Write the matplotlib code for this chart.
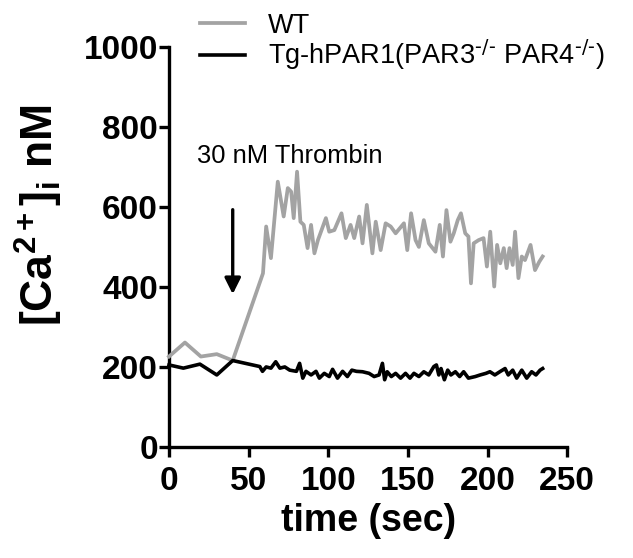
import matplotlib
matplotlib.use('Agg')
import matplotlib.pyplot as plt

plt.rcParams['font.family'] = ['Liberation Sans', 'DejaVu Sans']
plt.rcParams['mathtext.default'] = 'regular'

# WT trace (gray)
wt_time = [0, 10, 20, 30, 40, 59, 61, 64, 68.3, 72, 74.6, 76.7, 78.3, 80.4, 82.5, 84.6, 87, 89.2,
           91.3, 93.5, 98.5, 100.6, 103.8, 108.3, 111, 114, 116.3, 119.4, 121.5, 124.2, 127.7,
           129.8, 132.9, 136, 139.2, 142.3, 147.5, 149.6, 152, 154.8, 156.9, 160, 163.1, 167.3,
           170, 172, 174.2, 176.7, 178.8, 181.3, 183.3, 186, 188, 189.6, 191.3, 194.4, 197.5,
           199.6, 201.7, 204.2, 206, 208, 210.2, 212, 213.8, 215.8, 217.3, 219.4, 221.5, 223.5,
           227, 229.8, 232.5, 234.6]
wt_ca = [226, 261, 226, 232, 216, 434, 551, 472, 663, 576, 647, 638, 572, 688, 563, 555, 497, 555,
         484, 517, 572, 538, 542, 584, 522, 555, 522, 576, 509, 605, 484,
         563, 492, 559, 551, 534, 559, 492, 584, 517, 500, 567, 509, 488,
         555, 476, 592, 513, 534, 567, 584, 534, 526, 409, 509, 517, 522,
         451, 538, 401, 505, 459, 497, 447, 497, 455, 538, 422, 476, 467,
         505, 442, 463, 476]

# Tg-hPAR1(PAR3-/- PAR4-/-) trace (black)
tg_time = [0, 9, 19.4, 30, 40, 57, 58.7, 61, 64, 67, 69.6, 72.7, 75.8, 80, 82, 84, 86, 89.2, 92.3,
           94.4, 97.5, 100.6, 102.7, 105.8, 109, 112, 114.8, 117.7, 121.5, 125.6, 128.8, 131.9,
           134, 135.4, 137, 139.6, 142.3, 145.4, 148.5, 151.3, 153.8, 156.9, 160, 163.1, 166.3,
           167.9, 169.4, 170.8, 172.9, 175, 177, 179.8, 182.5, 185, 188, 192.3, 195.4, 199,
           201.5, 204.6, 207.7, 211, 213, 215.8, 218.3, 221.5, 224.6, 227.7, 230.4, 233, 234.6]
tg_ca = [205, 197, 207, 180, 216, 201, 189, 200, 197, 213, 197, 200, 192, 189, 209, 172, 189, 180, 189,
         172, 184, 176, 194, 172, 189, 176, 192, 189, 188, 184, 176, 180,
         209, 168, 188, 176, 184, 172, 184, 172, 184, 176, 188, 180, 201,
         205, 180, 196, 168, 192, 180, 188, 176, 188, 172, 176, 180, 184,
         188, 180, 188, 196, 180, 192, 172, 192, 172, 188, 180, 192, 196]

fig = plt.figure(figsize=(6.33, 5.58), dpi=100)
ax = fig.add_axes([0.267, 0.199, 0.629, 0.717])

ax.plot(wt_time, wt_ca, color='#a3a3a3', lw=2.7, label='WT', clip_on=False, zorder=3)
ax.plot(tg_time, tg_ca, color='black', lw=2.6,
        label=r'Tg-hPAR1(PAR3$^{\text{-/-}}$ PAR4$^{\text{-/-}}$)',
        clip_on=False, zorder=4)

ax.set_xlim(0, 250)
ax.set_ylim(0, 1000)
ax.set_xticks([0, 50, 100, 150, 200, 250])
ax.set_yticks([0, 200, 400, 600, 800, 1000])

for s in ['top', 'right']:
    ax.spines[s].set_visible(False)
for s in ['left', 'bottom']:
    ax.spines[s].set_linewidth(2.4)
ax.tick_params(width=2.4, length=7, labelsize=24)
ax.tick_params(axis='y', pad=1)
ax.tick_params(axis='x', pad=7)
for lab in ax.get_xticklabels() + ax.get_yticklabels():
    lab.set_fontweight('bold')

ax.set_xlabel('time (sec)', fontsize=27, fontweight='bold')
ax.xaxis.set_label_coords(0.5, -0.14)
ax.set_ylabel('[Ca$^{2+}$]$_i$ nM', fontsize=32, fontweight='bold')
ax.yaxis.set_label_coords(-0.26, 0.58)

ax.annotate('', xy=(40, 375), xytext=(40, 600),
            arrowprops=dict(arrowstyle='-|>', color='black', lw=2.4, mutation_scale=24))
ax.text(17.5, 727, '30 nM Thrombin', fontsize=18.4, ha='left', va='center')

ax.legend(loc='upper left', bbox_to_anchor=(0.291, 1.006), bbox_transform=fig.transFigure,
          frameon=False, fontsize=19.5, handlelength=1.65, borderpad=0.1, labelspacing=-0.05,
          handletextpad=0.85)

fig.savefig('out.png', dpi=100)
